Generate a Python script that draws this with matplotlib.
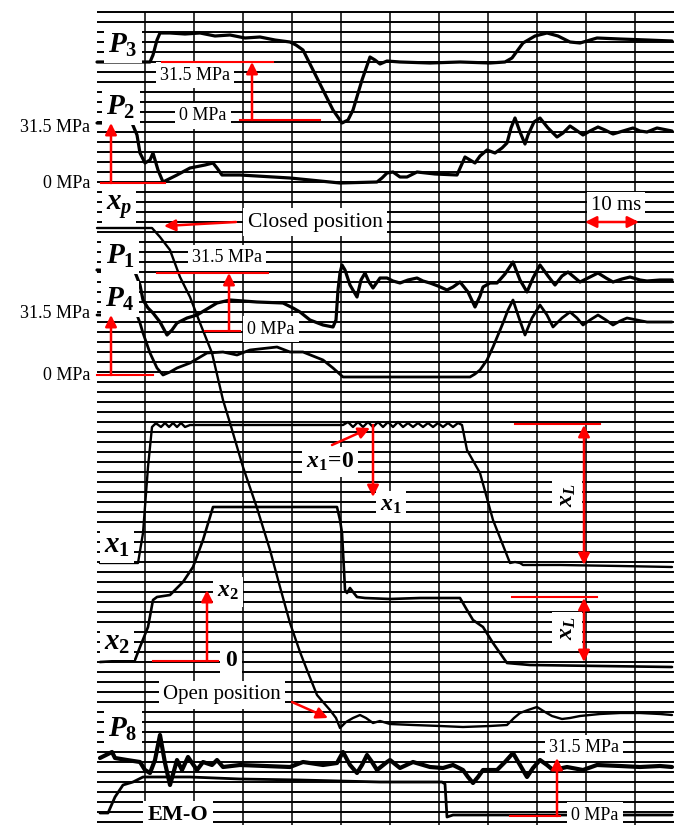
import numpy as np
import matplotlib
matplotlib.use("Agg")
import matplotlib.pyplot as plt

plt.rcParams["font.family"] = ["Liberation Serif", "DejaVu Serif"]
plt.rcParams["mathtext.fontset"] = "custom"
plt.rcParams["mathtext.it"] = "Liberation Serif:italic:bold"
plt.rcParams["mathtext.rm"] = "Liberation Serif:bold"
plt.rcParams["mathtext.bf"] = "Liberation Serif:bold"

#TRACE DATA (paper px)

p3_x = [97, 150, 153, 157, 160, 170, 185, 200, 215, 230, 245, 260, 275, 290, 296, 303, 313, 323,
        333, 342, 348, 353, 362, 370, 375, 380, 387, 400, 430, 460, 490, 505, 512, 523, 535, 547,
        558, 570, 580, 597, 620, 647, 672]
p3_y = [62, 62, 55, 40, 33, 33, 34, 33, 36, 35, 38, 37, 40, 42, 45, 50, 70, 90,
        110, 123, 120, 110, 80, 57, 60, 64, 61, 62, 63, 62, 63, 62, 58, 43, 36, 33,
        36, 42, 43, 38, 39, 40, 41]

p2_x = [97, 132, 137, 140, 145, 150, 153, 158, 163, 177, 190, 205, 213, 217, 222, 240, 290, 340,
        377, 382, 387, 393, 400, 407, 417, 435, 457, 465, 470, 475, 480, 487, 495, 502, 507, 511,
        515, 520, 525, 528, 534, 540, 548, 557, 563, 570, 576, 583, 590, 598, 605, 613, 623, 633,
        640, 647, 657, 667, 672]
p2_y = [123, 123, 135, 153, 163, 160, 153, 170, 182, 175, 168, 165, 163, 168, 175, 175, 178, 183,
        182, 178, 173, 172, 177, 177, 172, 174, 175, 157, 160, 163, 156, 150, 153, 148, 143, 128,
        118, 132, 144, 135, 122, 118, 128, 137, 133, 126, 130, 135, 131, 127, 130, 134, 131, 128,
        131, 132, 128, 130, 131]

xp_x = [97, 152, 160, 170, 180, 190, 200, 212, 223, 230, 243, 257, 270, 280, 290, 300, 307, 317,
        323, 330, 336, 340, 346, 353, 360, 366, 373, 380, 390, 413, 440, 463, 490, 507, 514, 520,
        528, 537, 545, 552, 562, 570, 580, 600, 620, 640, 660, 672]
xp_y = [228, 228, 237, 250, 277, 297, 323, 353, 400, 423, 467, 508, 550, 587, 623, 652, 670, 695,
        702, 710, 718, 728, 722, 718, 715, 718, 723, 721, 724, 725, 726, 727, 726, 725, 718, 713,
        710, 707, 712, 716, 719, 718, 716, 714, 713, 713, 714, 715]

p1_x = [97, 135, 140, 143, 148, 153, 160, 167, 172, 177, 187, 197, 207, 217, 230, 257, 283, 293,
        300, 310, 323, 333, 336, 338, 340, 342, 345, 350, 357, 361, 365, 369, 373, 380, 387, 393,
        400, 408, 417, 423, 430, 438, 447, 453, 460, 468, 475, 480, 483, 490, 497, 505, 513, 520,
        527, 533, 540, 548, 555, 562, 568, 574, 580, 590, 598, 606, 613, 622, 630, 640, 647, 660,
        672]
p1_y = [270, 272, 285, 300, 308, 313, 322, 335, 330, 323, 318, 315, 309, 303, 300, 302, 303, 308,
        312, 320, 325, 327, 320, 290, 273, 265, 270, 285, 297, 280, 273, 282, 288, 278, 278, 281,
        283, 280, 278, 281, 283, 286, 290, 287, 282, 292, 307, 296, 287, 283, 283, 274, 262, 280,
        292, 278, 265, 276, 285, 276, 272, 277, 282, 277, 273, 278, 282, 279, 277, 280, 281, 280,
        280]

p4_x = [97, 137, 140, 143, 150, 157, 163, 170, 177, 190, 207, 223, 237, 250, 277, 290, 303, 323,
        333, 343, 380, 420, 470, 475, 480, 487, 493, 498, 503, 508, 513, 519, 525, 532, 540, 547,
        553, 562, 570, 577, 583, 590, 598, 606, 613, 620, 627, 637, 647, 660, 672]
p4_y = [315, 315, 323, 333, 353, 368, 375, 372, 368, 363, 353, 352, 355, 350, 347, 352, 352, 360,
        368, 377, 377, 377, 377, 374, 370, 360, 347, 335, 323, 310, 300, 318, 335, 318, 305, 315,
        327, 318, 312, 318, 325, 320, 315, 320, 325, 321, 318, 320, 322, 322, 322]

x1_x = [100, 138, 143, 148, 152, 155, 157, 161, 165, 169, 173, 177, 181, 185, 190, 260, 343,
        348, 353, 358, 363, 368, 373, 378, 383, 388, 393, 398, 403, 408, 413, 418, 423, 428, 433,
        438, 443, 448, 453, 458, 462, 467, 480, 493, 510, 515, 520, 523, 560, 620, 672]
x1_y = [563, 563, 533, 467, 427, 424, 424, 427, 423, 427, 423, 427, 423, 427, 425, 425, 425,
        422, 427, 422, 427, 422, 427, 422, 427, 422, 427, 422, 427, 423, 427, 423, 427, 423, 427,
        423, 427, 423, 427, 423, 425, 450, 473, 520, 563, 562, 563, 565, 565, 566, 567]

x2_x = [100, 135, 140, 148, 153, 157, 170, 183, 193, 203, 213, 330, 337, 340, 342, 344, 345, 347,
        350, 353, 357, 365, 390, 420, 460, 467, 473, 483, 493, 500, 507, 530, 600, 672]
x2_y = [662, 660, 647, 627, 600, 597, 595, 582, 567, 540, 507, 507, 507, 520, 533, 570, 590, 593,
        588, 592, 597, 598, 599, 598, 598, 610, 620, 627, 643, 653, 663, 665, 666, 667]

p8_x = [100, 112, 115, 127, 140, 145, 150, 155, 160, 165, 170, 177, 182, 188, 197, 203, 212, 217,
        223, 240, 265, 290, 303, 323, 337, 343, 350, 357, 362, 367, 372, 377, 382, 387, 390, 395,
        400, 413, 430, 443, 453, 463, 468, 473, 478, 483, 497, 505, 513, 520, 527, 533, 540, 547,
        553, 567, 583, 597, 620, 640, 660, 672]
p8_y = [758, 752, 758, 760, 762, 770, 773, 760, 735, 763, 785, 760, 770, 757, 770, 762, 765, 760,
        767, 765, 766, 767, 762, 765, 763, 752, 765, 773, 765, 755, 762, 770, 766, 762, 760, 764,
        768, 762, 767, 768, 765, 770, 777, 783, 777, 770, 770, 762, 753, 765, 777, 768, 760, 765,
        770, 767, 770, 765, 766, 767, 766, 767]

emo_x = [100, 108, 115, 123, 133, 143, 190, 240, 300, 380, 442, 445, 447, 453, 500, 563, 630, 672]
emo_y = [813, 813, 797, 785, 782, 777, 777, 779, 780, 782, 782, 784, 817, 815, 815, 815, 815, 815]

#FIGURE / PAPER

fig = plt.figure(figsize=(6.77, 8.25), dpi=100)
ax = fig.add_axes([0, 0, 1, 1])
ax.set_xlim(0, 677)
ax.set_ylim(825, 0)
ax.axis("off")

# recorder grid: 10 ms major divisions, fine amplitude lines
ax.hlines(np.arange(12, 826, 10), 97, 674, color="black", lw=1.4, zorder=1)
ax.vlines(np.arange(145, 660, 49), 12, 825, color="black", lw=1.1, zorder=1)

traces = [
    (p3_x, p3_y, 2.3), (p2_x, p2_y, 2.3), (xp_x, xp_y, 1.7), (p1_x, p1_y, 2.3),
    (p4_x, p4_y, 2.0), (x1_x, x1_y, 1.7), (x2_x, x2_y, 1.9), (p8_x, p8_y, 3.0),
    (emo_x, emo_y, 2.0),
]
for tx, ty, lw in traces:
    ax.plot(tx, ty, color="black", lw=lw, solid_joinstyle="round",
            solid_capstyle="round", zorder=3)

#LABELS

box = dict(facecolor="white", edgecolor="none", pad=3)


def label(x, y, s, size=13, **kw):
    ax.text(x, y, s, fontsize=size, ha="center", va="center", bbox=box, zorder=5, **kw)


def red_arrow(start, end, both=False):
    style = "<|-|>" if both else "-|>"
    ax.annotate("", xy=end, xytext=start, zorder=7,
                arrowprops=dict(arrowstyle=style, color="red", lw=1.8,
                                mutation_scale=17, shrinkA=0, shrinkB=0))


def red_line(x0, x1, y):
    ax.plot([x0, x1], [y, y], color="red", lw=1.5, zorder=6)


# trace names
label(123, 45, r"$P_3$", 21)
label(121, 107, r"$P_2$", 21)
label(119, 207, r"$x_p$", 21)
label(120, 256, r"$P_1$", 21)
label(120, 299, r"$P_4$", 21)
label(117, 546, r"$x_1$", 21)
label(117, 643, r"$x_2$", 21)
label(123, 729, r"$P_8$", 21)
label(178, 815, "EM-O", 16, fontweight="bold")

# P3 scale
red_line(162, 273, 62)
red_line(240, 320, 120)
red_arrow((252, 120), (252, 62))
label(195, 75, "31.5 MPa")
label(203, 116, "0 MPa")

# P2 scale
red_line(101, 165, 183)
red_arrow((111, 183), (111, 123))
ax.text(90, 127, "31.5 MPa", fontsize=13, ha="right", va="center")
ax.text(90, 183, "0 MPa", fontsize=13, ha="right", va="center")

# xp closed position
red_arrow((236, 222), (164, 226))
label(315, 222, "Closed position", 15.5)

# P1 scale
red_line(157, 268, 273)
red_line(205, 240, 331)
red_arrow((229, 331), (229, 273))
label(227, 258, "31.5 MPa")
label(271, 329, "0 MPa")

# P4 scale
red_line(97, 153, 375)
red_arrow((111, 375), (111, 315))
ax.text(90, 313, "31.5 MPa", fontsize=13, ha="right", va="center")
ax.text(90, 375, "0 MPa", fontsize=13, ha="right", va="center")

# time base
label(616, 206, "10 ms", 15)
red_arrow((585, 222), (639, 222), both=True)

# x1 reference
red_arrow((332, 445), (370, 428))
red_arrow((373, 425), (373, 497))
label(330, 462, r"$x_1\!=\!0$", 17)
label(391, 506, r"$x_1$", 17)

# stroke xL
red_line(515, 600, 424)
red_arrow((584, 425), (584, 565), both=True)
label(567, 495, r"$x_L$", 17, rotation=90)
red_line(512, 597, 597)
red_arrow((584, 598), (584, 662), both=True)
label(567, 628, r"$x_L$", 17, rotation=90)

# x2 reference
red_line(153, 218, 661)
red_arrow((207, 661), (207, 590))
label(228, 592, r"$x_2$", 17)
label(231, 660, r"$0$", 17)

# xp open position
label(222, 695, "Open position", 15)
red_arrow((292, 702), (328, 718))

# P8 scale
red_line(510, 560, 816)
red_arrow((557, 816), (557, 758))
label(584, 748, "31.5 MPa")
label(595, 815, "0 MPa")

fig.savefig("out.png", dpi=100)
